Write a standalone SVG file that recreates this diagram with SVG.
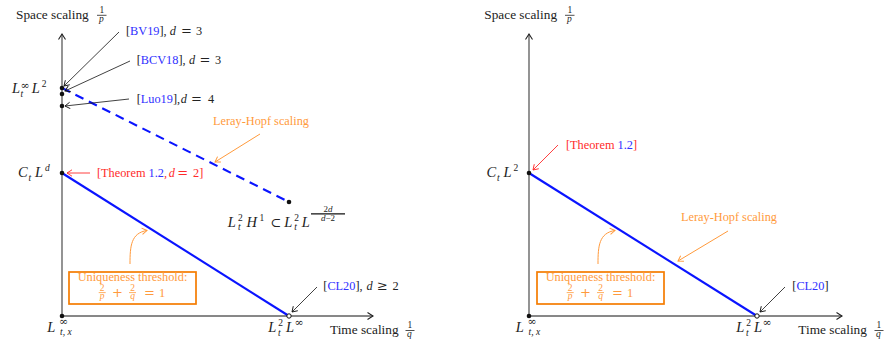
<svg xmlns="http://www.w3.org/2000/svg" width="888" height="343" viewBox="0 0 888 343" font-family="Liberation Serif, serif">
<style>
text{font-family:'Liberation Serif','Times New Roman',serif;fill:#222}
.ax{font-size:13.3px}
.lb{font-size:12.3px}
.m{font-size:14.5px;font-style:italic}
.s{font-size:9.5px}
.si{font-size:9.5px;font-style:italic}
.f{font-size:9px}
.it{font-style:italic}
.sym{font-family:'DejaVu Serif',serif;font-style:normal}
.inf{font-family:'DejaVu Serif',serif;font-size:11px}
.blue{fill:#3030ff}
.red{fill:#ff2a2a}
.or{fill:#ff9a3c}
.yax{stroke:#666;stroke-width:1.4;fill:none}
.xax{stroke:#111;stroke-width:1;fill:none}
.ptr{stroke:#111;stroke-width:0.8;fill:none}
.rptr{stroke:#ff2a2a;stroke-width:0.9;fill:none}
.optr{stroke:#ff9a3c;stroke-width:1;fill:none}
.sol{stroke:#0a14ff;stroke-width:2.1;fill:none}
.dash{stroke:#0a14ff;stroke-width:2.1;fill:none;stroke-dasharray:9,6}
.box{stroke:#f57c00;stroke-width:1.7;fill:none}
.bar{stroke:#222;stroke-width:0.8}
.tbar{stroke:#111;stroke-width:1.3}
.obar{stroke:#ff9a3c;stroke-width:0.8}
</style>
<defs>
<marker id="aK" markerWidth="8" markerHeight="8" refX="6" refY="4" orient="auto" markerUnits="userSpaceOnUse"><path d="M1,0.8 L6,4 L1,7.2" fill="none" stroke="#111" stroke-width="0.9"/></marker>
<marker id="aR" markerWidth="8" markerHeight="8" refX="6" refY="4" orient="auto" markerUnits="userSpaceOnUse"><path d="M1,0.8 L6,4 L1,7.2" fill="none" stroke="#ff2a2a" stroke-width="0.9"/></marker>
<marker id="aO" markerWidth="8" markerHeight="8" refX="6" refY="4" orient="auto" markerUnits="userSpaceOnUse"><path d="M1,0.8 L6,4 L1,7.2" fill="none" stroke="#ff9a3c" stroke-width="1"/></marker>
<marker id="aA" markerWidth="10" markerHeight="10" refX="7" refY="5" orient="auto" markerUnits="userSpaceOnUse"><path d="M1.5,1.5 L7,5 L1.5,8.5" fill="none" stroke="#222" stroke-width="1.1"/></marker>
</defs>

<g id="connectors">
  <line class="yax" x1="62" y1="316" x2="62" y2="34" marker-end="url(#aA)"/>
  <line class="xax" x1="62" y1="316" x2="373" y2="316" marker-end="url(#aA)"/>
  <line class="dash" x1="62" y1="88" x2="289" y2="202"/>
  <line class="sol" x1="62" y1="173" x2="289" y2="316"/>
  <line class="ptr" x1="119" y1="32" x2="64" y2="86" marker-end="url(#aK)"/>
  <line class="ptr" x1="130" y1="61" x2="65" y2="91" marker-end="url(#aK)"/>
  <line class="ptr" x1="129" y1="99" x2="65" y2="106" marker-end="url(#aK)"/>
  <line class="rptr" x1="90" y1="173" x2="67" y2="173" marker-end="url(#aR)"/>
  <line class="optr" x1="260" y1="134" x2="215" y2="162" marker-end="url(#aO)"/>
  <path class="optr" d="M130,264 C130,246 131,233 147,230.5" marker-end="url(#aO)"/>
  <line class="ptr" x1="317" y1="287" x2="292" y2="312" marker-end="url(#aK)"/>

  <line class="yax" x1="529" y1="316" x2="529" y2="34" marker-end="url(#aA)"/>
  <line class="xax" x1="529" y1="316" x2="842" y2="316" marker-end="url(#aA)"/>
  <line class="sol" x1="529" y1="173" x2="757" y2="316"/>
  <line class="rptr" x1="558" y1="145" x2="533" y2="170" marker-end="url(#aR)"/>
  <line class="optr" x1="728" y1="231" x2="678" y2="261" marker-end="url(#aO)"/>
  <path class="optr" d="M598,264 C598,246 599,233 615,230.5" marker-end="url(#aO)"/>
  <line class="ptr" x1="785" y1="287" x2="760" y2="312" marker-end="url(#aK)"/>
</g>

<!-- ================= LEFT PANEL ================= -->
<g id="left-yaxis-label">
  <text class="ax" x="16" y="18.5">Space scaling</text>
  <text class="s" x="99.5" y="13.3">1</text>
  <line class="bar" x1="97" y1="15.3" x2="106.5" y2="15.3"/>
  <text class="si" x="99" y="21.5">p</text>
</g>
<g id="left-xaxis-label">
  <text class="ax" x="330" y="334">Time scaling</text>
  <text class="s" x="407.5" y="328.3">1</text>
  <line class="bar" x1="405.5" y1="330.5" x2="414.5" y2="330.5"/>
  <text class="si" x="407" y="337">q</text>
</g>
<g id="left-origin">
  <circle cx="62" cy="316" r="2.3" fill="#111"/>
  <text class="m" x="47.3" y="332">L</text>
  <text class="inf" x="59" y="325">∞</text>
  <text class="si" x="60" y="334.5">t, x</text>
</g>
<g id="left-L2Linf">
  <circle cx="289" cy="316" r="2.2" fill="#fff" stroke="#111" stroke-width="1"/>
  <text class="m" x="268.3" y="332.3">L</text>
  <text class="s" x="278.3" y="325.7">2</text>
  <text class="si" x="278" y="335.5">t</text>
  <text class="m" x="286" y="332.3">L</text>
  <text class="inf" x="294.5" y="325.5">∞</text>
</g>
<g id="left-LinfL2">
  <circle cx="62" cy="88" r="2.3" fill="#111"/>
  <circle cx="62" cy="94" r="2.3" fill="#111"/>
  <circle cx="62" cy="106" r="2.3" fill="#111"/>
  <text class="m" x="12" y="93">L</text>
  <text class="inf" x="20.5" y="89">∞</text>
  <text class="si" x="20.5" y="97">t</text>
  <text class="m" x="31.7" y="93">L</text>
  <text class="s" x="41.7" y="86.7">2</text>
</g>
<g id="left-CtLd">
  <circle cx="62" cy="173" r="2.3" fill="#111"/>
  <text class="m" x="18" y="177">C</text>
  <text class="si" x="28.5" y="180.5">t</text>
  <text class="m" x="35" y="177">L</text>
  <text class="si" x="45" y="170.5">d</text>
</g>
<g id="left-H1">
  <circle cx="289" cy="202" r="2.3" fill="#111"/>
  <text class="m" x="227.7" y="226.5">L</text>
  <text class="s" x="238" y="221">2</text>
  <text class="si" x="238" y="230">t</text>
  <text class="m" x="246.5" y="226.5">H</text>
  <text class="s" x="259.5" y="221">1</text>
  <text class="sym" font-size="13" x="270.5" y="226.5">⊂</text>
  <text class="m" x="284.3" y="226.5">L</text>
  <text class="s" x="294.3" y="221">2</text>
  <text class="si" x="294.3" y="230">t</text>
  <text class="m" x="301.7" y="226.5">L</text>
  <text class="f" x="328" y="211.8" text-anchor="middle">2<tspan class="it">d</tspan></text>
  <line class="tbar" x1="311" y1="213.8" x2="345" y2="213.8"/>
  <text class="f" x="328" y="221" text-anchor="middle"><tspan class="it">d</tspan>−2</text>
</g>
<g id="left-BV19">
  <text class="lb" x="126" y="35.3">[<tspan class="blue">BV19</tspan>],<tspan class="it" x="169.7">d</tspan><tspan class="sym" x="181" font-size="13">=</tspan><tspan x="196">3</tspan></text>
</g>
<g id="left-BCV18">
  <text class="lb" x="136.7" y="63.7">[<tspan class="blue">BCV18</tspan>],<tspan class="it" x="189">d</tspan><tspan class="sym" x="199.5" font-size="13">=</tspan><tspan x="215">3</tspan></text>
</g>
<g id="left-Luo19">
  <text class="lb" x="136.7" y="103">[<tspan class="blue">Luo19</tspan>],<tspan class="it" x="180.7">d</tspan><tspan class="sym" x="191" font-size="13">=</tspan><tspan x="208">4</tspan></text>
</g>
<g id="left-theorem">
  <text class="lb red" x="97" y="177">[Theorem <tspan class="blue">1.2</tspan>,<tspan class="it" x="168.7">d</tspan><tspan class="sym" x="177.3" font-size="13">=</tspan><tspan x="193">2]</tspan></text>
</g>
<g id="left-leray">
  <text class="lb or" x="213" y="125">Leray-Hopf scaling</text>
</g>
<g id="left-CL20">
  <text class="lb" x="323.3" y="290">[<tspan class="blue">CL20</tspan>],<tspan class="it" x="366.5">d</tspan><tspan class="sym" x="377" font-size="13">≥</tspan><tspan x="392.5">2</tspan></text>
</g>
<g id="left-uniqueness">
  <rect class="box" x="69" y="272" width="127" height="32"/>
  <text class="lb or" x="132.5" y="281.3" text-anchor="middle" font-size="12">Uniqueness threshold:</text>
  <text class="s or" x="102.2" y="291" text-anchor="middle" font-size="9">2</text>
  <line class="obar" x1="98.7" y1="292.6" x2="105.7" y2="292.6"/>
  <text class="si or" x="102.2" y="298.8" text-anchor="middle" font-size="9">p</text>
  <text class="sym or" x="117.5" y="297.3" text-anchor="middle" font-size="13">+</text>
  <text class="s or" x="132.5" y="291" text-anchor="middle" font-size="9">2</text>
  <line class="obar" x1="129" y1="292.6" x2="136" y2="292.6"/>
  <text class="si or" x="132.5" y="298.8" text-anchor="middle" font-size="9">q</text>
  <text class="sym or" x="149.5" y="297.3" text-anchor="middle" font-size="13">=</text>
  <text class="or" x="162.2" y="297.3" text-anchor="middle" font-size="12.5">1</text>
</g>

<!-- ================= RIGHT PANEL ================= -->
<g id="right-yaxis-label">
  <text class="ax" x="484.3" y="18.5">Space scaling</text>
  <text class="s" x="567.5" y="13.3">1</text>
  <line class="bar" x1="565" y1="15.3" x2="574.5" y2="15.3"/>
  <text class="si" x="567" y="21.5">p</text>
</g>
<g id="right-xaxis-label">
  <text class="ax" x="798.3" y="334">Time scaling</text>
  <text class="s" x="876.5" y="328.3">1</text>
  <line class="bar" x1="874.5" y1="330.5" x2="883.5" y2="330.5"/>
  <text class="si" x="876" y="337">q</text>
</g>
<g id="right-origin">
  <circle cx="529" cy="316" r="2.3" fill="#111"/>
  <text class="m" x="515.8" y="332">L</text>
  <text class="inf" x="527.5" y="325">∞</text>
  <text class="si" x="528.5" y="334.5">t, x</text>
</g>
<g id="right-L2Linf">
  <circle cx="757" cy="316" r="2.2" fill="#fff" stroke="#111" stroke-width="1"/>
  <text class="m" x="736.3" y="332.3">L</text>
  <text class="s" x="746.3" y="325.7">2</text>
  <text class="si" x="746" y="335.5">t</text>
  <text class="m" x="754" y="332.3">L</text>
  <text class="inf" x="762.5" y="325.5">∞</text>
</g>
<g id="right-CtL2">
  <circle cx="529" cy="173" r="2.3" fill="#111"/>
  <text class="m" x="486.5" y="177">C</text>
  <text class="si" x="497" y="180.5">t</text>
  <text class="m" x="503.5" y="177">L</text>
  <text class="s" x="513.5" y="170.5">2</text>
</g>
<g id="right-theorem">
  <text class="lb red" x="566" y="149">[Theorem <tspan class="blue">1.2</tspan>]</text>
</g>
<g id="right-leray">
  <text class="lb or" x="681" y="221">Leray-Hopf scaling</text>
</g>
<g id="right-CL20">
  <text class="lb" x="792.3" y="290">[<tspan class="blue">CL20</tspan>]</text>
</g>
<g id="right-uniqueness">
  <rect class="box" x="537" y="272" width="127" height="32"/>
  <text class="lb or" x="600.5" y="281.3" text-anchor="middle" font-size="12">Uniqueness threshold:</text>
  <text class="s or" x="570.2" y="291" text-anchor="middle" font-size="9">2</text>
  <line class="obar" x1="566.7" y1="292.6" x2="573.7" y2="292.6"/>
  <text class="si or" x="570.2" y="298.8" text-anchor="middle" font-size="9">p</text>
  <text class="sym or" x="585.5" y="297.3" text-anchor="middle" font-size="13">+</text>
  <text class="s or" x="600.5" y="291" text-anchor="middle" font-size="9">2</text>
  <line class="obar" x1="597" y1="292.6" x2="604" y2="292.6"/>
  <text class="si or" x="600.5" y="298.8" text-anchor="middle" font-size="9">q</text>
  <text class="sym or" x="617.5" y="297.3" text-anchor="middle" font-size="13">=</text>
  <text class="or" x="630.2" y="297.3" text-anchor="middle" font-size="12.5">1</text>
</g>
</svg>
